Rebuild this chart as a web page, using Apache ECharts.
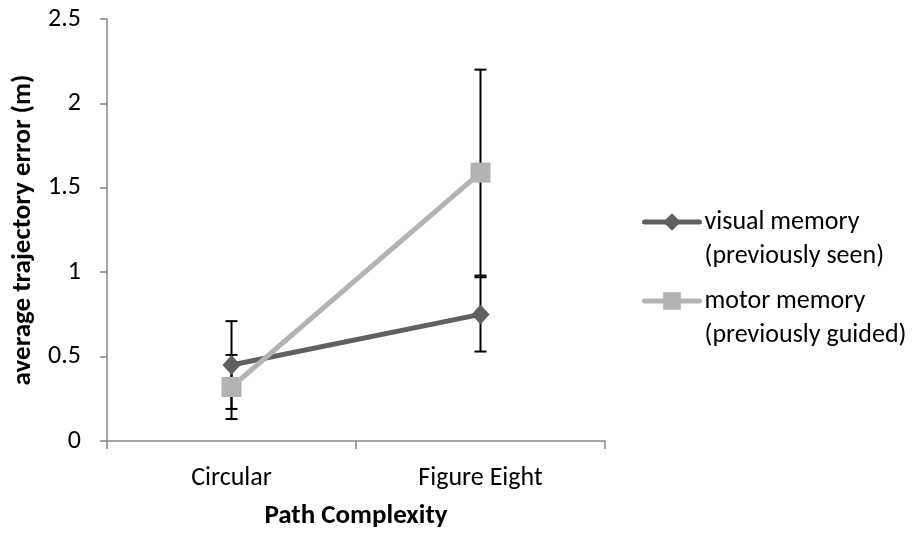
<!DOCTYPE html>
<html>
<head>
<meta charset="utf-8">
<script src="https://cdn.jsdelivr.net/npm/echarts@6/dist/echarts.min.js"></script>
<style>
html,body{margin:0;padding:0;background:#fff;}
#c{width:913px;height:535px;}
</style>
</head>
<body>
<div id="c"></div>
<script>
const categories = ['Circular', 'Figure Eight'];
const visualMean = [0.45, 0.75];
const visualLow = [0.19, 0.53];
const visualHigh = [0.71, 0.97];
const motorMean = [0.32, 1.59];
const motorLow = [0.13, 0.98];
const motorHigh = [0.51, 2.20];
const seriesNames = ['visual memory (previously seen)', 'motor memory (previously guided)'];

const FONT = 'Carlito, Calibri, Lato, sans-serif';
const DARK = '#606060';
const LIGHT = '#b3b3b3';

function errData(low, high) {
  return categories.map((c, i) => [i, low[i], high[i]]);
}
function errRender(params, api) {
  const x = api.value(0);
  const lo = api.coord([x, api.value(1)]);
  const hi = api.coord([x, api.value(2)]);
  const cap = 6;
  const style = { stroke: '#000', lineWidth: 2 };
  return {
    type: 'group',
    children: [
      { type: 'line', shape: { x1: lo[0], y1: lo[1], x2: hi[0], y2: hi[1] }, style },
      { type: 'line', shape: { x1: lo[0] - cap, y1: lo[1], x2: lo[0] + cap, y2: lo[1] }, style },
      { type: 'line', shape: { x1: hi[0] - cap, y1: hi[1], x2: hi[0] + cap, y2: hi[1] }, style }
    ]
  };
}

const chart = echarts.init(document.getElementById('c'), null, { renderer: 'canvas' });
chart.setOption({
  animation: false,
  backgroundColor: '#fff',
  textStyle: { fontFamily: FONT },
  grid: { left: 107, right: 308, top: 19, bottom: 93, containLabel: false },
  legend: {
    orient: 'vertical',
    left: 642,
    top: 171,
    padding: 0,
    itemWidth: 55,
    itemHeight: 22,
    itemGap: -23,
    data: seriesNames,
    formatter: n => '\n' + n.replace(' (', '\n('),
    lineStyle: { width: 5, cap: 'round' },
    textStyle: { fontFamily: FONT, fontSize: 26, color: '#000', lineHeight: 34 }
  },
  xAxis: {
    type: 'category',
    data: categories,
    boundaryGap: true,
    name: 'Path Complexity',
    nameLocation: 'middle',
    nameGap: 62,
    nameTextStyle: { fontFamily: FONT, fontSize: 27, fontWeight: 'bold', color: '#000' },
    axisLine: { lineStyle: { color: '#868686', width: 1.5 } },
    axisTick: { show: true, length: 8, lineStyle: { color: '#868686', width: 1.5 } },
    axisLabel: { fontFamily: FONT, fontSize: 26, color: '#000', margin: 24 },
    splitLine: { show: false }
  },
  yAxis: {
    type: 'value',
    min: 0,
    max: 2.5,
    interval: 0.5,
    name: 'average trajectory error (m)',
    nameLocation: 'middle',
    nameGap: 68,
    nameRotate: 90,
    nameTextStyle: { fontFamily: FONT, fontSize: 27, fontWeight: 'bold', color: '#000' },
    axisLine: { show: true, lineStyle: { color: '#868686', width: 1.5 } },
    axisTick: { show: true, length: 7, lineStyle: { color: '#868686', width: 1.5 } },
    axisLabel: { fontFamily: FONT, fontSize: 26, color: '#000', margin: 26 },
    splitLine: { show: false }
  },
  series: [
    {
      name: seriesNames[0] + ' err',
      type: 'custom',
      renderItem: errRender,
      data: errData(visualLow, visualHigh),
      encode: { x: 0, y: [1, 2] },
      z: 1,
      silent: true
    },
    {
      name: seriesNames[1] + ' err',
      type: 'custom',
      renderItem: errRender,
      data: errData(motorLow, motorHigh),
      encode: { x: 0, y: [1, 2] },
      z: 1,
      silent: true
    },
    {
      name: seriesNames[0],
      type: 'line',
      data: visualMean,
      z: 3,
      color: DARK,
      symbol: 'diamond',
      symbolSize: [18, 20],
      lineStyle: { color: DARK, width: 5 },
      itemStyle: { color: DARK }
    },
    {
      name: seriesNames[1],
      type: 'line',
      data: motorMean,
      z: 4,
      color: LIGHT,
      symbol: 'rect',
      symbolSize: 20,
      lineStyle: { color: LIGHT, width: 5 },
      itemStyle: { color: LIGHT }
    }
  ]
});
</script>
</body>
</html>
